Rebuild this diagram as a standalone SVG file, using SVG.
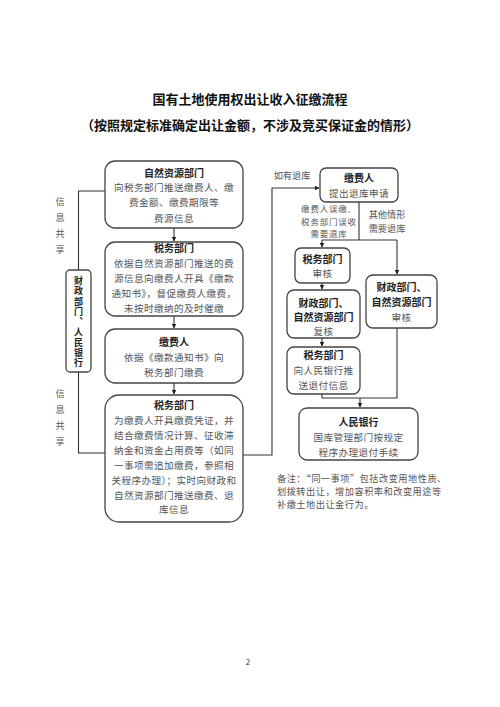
<svg xmlns="http://www.w3.org/2000/svg" width="500" height="707" viewBox="0 0 500 707">
<style>
text{font-family:"Noto Sans CJK SC","Noto Sans",sans-serif;}
.t{font-size:13px;font-weight:bold;fill:#111;text-anchor:middle;}
.h{font-size:10px;font-weight:bold;fill:#222;text-anchor:middle;}
.v{font-size:9px;font-weight:bold;fill:#222;writing-mode:vertical-rl;letter-spacing:1.3px;}
.vs{font-size:9.2px;fill:#555;writing-mode:vertical-rl;letter-spacing:6.8px;}
.b{font-size:9.6px;fill:#555;text-anchor:middle;letter-spacing:0.4px;}
.l{font-size:9.2px;fill:#555;text-anchor:middle;}
.s{font-size:8.5px;fill:#555;text-anchor:middle;letter-spacing:0.8px;}
.box{fill:#fff;stroke:#444;stroke-width:1.3;}
.c{fill:none;stroke:#333;stroke-width:1.1;}
</style>
<defs>
<marker id="ar" viewBox="0 0 10 10" refX="9" refY="5" markerWidth="5" markerHeight="5" orient="auto" markerUnits="userSpaceOnUse">
<path d="M0,0 L10,5 L0,10 z" fill="#222"/>
</marker>
</defs>
<rect width="500" height="707" fill="#fff"/>
<text class="t" x="250" y="104">国有土地使用权出让收入征缴流程</text>
<text class="t" x="250" y="130">（按照规定标准确定出让金额，不涉及竞买保证金的情形）</text>

<g id="connectors">
<path class="c" d="M174,228 V241" marker-end="url(#ar)"/>
<path class="c" d="M174,316 V328" marker-end="url(#ar)"/>
<path class="c" d="M174,383 V394" marker-end="url(#ar)"/>
<path class="c" d="M105,191 H78.5 V270"/>
<path class="c" d="M78.5,372 V453 H105"/>
<path class="c" d="M243,455 H272 V188 H319" marker-end="url(#ar)"/>
<path class="c" d="M359,202 V240 M322,240 H397"/>
<path class="c" d="M322,240 V247" marker-end="url(#ar)"/>
<path class="c" d="M397,240 V274" marker-end="url(#ar)"/>
<path class="c" d="M322,283 V289" marker-end="url(#ar)"/>
<path class="c" d="M322,338 V346" marker-end="url(#ar)"/>
<path class="c" d="M322,394 V398 H397 V328"/>
<path class="c" d="M360,398 V407" marker-end="url(#ar)"/>
</g>

<g id="n1">
<rect class="box" x="105" y="161" width="138" height="67" rx="10"/>
<text class="h" x="174" y="177">自然资源部门</text>
<text class="b" x="174" y="191">向税务部门推送缴费人、缴</text>
<text class="b" x="174" y="206">费金额、缴费期限等</text>
<text class="b" x="174" y="222">费源信息</text>
</g>
<g id="n2">
<rect class="box" x="105" y="242" width="138" height="74" rx="10"/>
<text class="h" x="174" y="252">税务部门</text>
<text class="b" x="174" y="267">依据自然资源部门推送的费</text>
<text class="b" x="174" y="282">源信息向缴费人开具《缴款</text>
<text class="b" x="174" y="297">通知书》，督促缴费人缴费，</text>
<text class="b" x="174" y="312">未按时缴纳的及时催缴</text>
</g>
<g id="n3">
<rect class="box" x="105" y="329" width="138" height="54" rx="10"/>
<text class="h" x="174" y="346">缴费人</text>
<text class="b" x="174" y="361">依据《缴款通知书》向</text>
<text class="b" x="174" y="376">税务部门缴费</text>
</g>
<g id="n4">
<rect class="box" x="105" y="395" width="138" height="127" rx="14"/>
<text class="h" x="174" y="409">税务部门</text>
<text class="b" x="174" y="424">为缴费人开具缴费凭证，并</text>
<text class="b" x="174" y="439">结合缴费情况计算、征收滞</text>
<text class="b" x="174" y="454">纳金和资金占用费等（如同</text>
<text class="b" x="174" y="469">一事项需追加缴费，参照相</text>
<text class="b" x="174" y="484">关程序办理）；实时向财政和</text>
<text class="b" x="174" y="499">自然资源部门推送缴费、退</text>
<text class="b" x="174" y="513">库信息</text>
</g>
<g id="side">
<rect class="box" x="66" y="270" width="25" height="102" rx="4"/>
<text class="v" x="78.5" y="276">财政部门、人民银行</text>
</g>
<g id="share-labels">
<text class="vs" x="60" y="197">信息共享</text>
<text class="vs" x="60" y="389">信息共享</text>
</g>
<text class="l" x="292" y="179">如有退库</text>
<text class="s" x="329" y="212">缴费人误缴、</text>
<text class="s" x="329" y="224.5">税务部门误收</text>
<text class="s" x="329" y="237">需要退库</text>
<text class="l" x="387" y="218">其他情形</text>
<text class="l" x="387" y="232">需要退库</text>

<g id="r1">
<rect class="box" x="320" y="168" width="78" height="34" rx="6"/>
<text class="h" x="359" y="182">缴费人</text>
<text class="b" x="359" y="197">提出退库申请</text>
</g>
<g id="r2">
<rect class="box" x="295" y="248" width="55" height="35" rx="6"/>
<text class="h" x="322.5" y="263">税务部门</text>
<text class="b" x="322.5" y="277">审核</text>
</g>
<g id="r3">
<rect class="box" x="287" y="290" width="73" height="48" rx="7"/>
<text class="h" x="323.5" y="307">财政部门、</text>
<text class="h" x="323.5" y="321">自然资源部门</text>
<text class="b" x="323.5" y="335">复核</text>
</g>
<g id="r4">
<rect class="box" x="287" y="347" width="73" height="47" rx="7"/>
<text class="h" x="323.5" y="359">税务部门</text>
<text class="b" x="323.5" y="374">向人民银行推</text>
<text class="b" x="323.5" y="389">送退付信息</text>
</g>
<g id="r5">
<rect class="box" x="366" y="275" width="71" height="53" rx="7"/>
<text class="h" x="401.5" y="291">财政部门、</text>
<text class="h" x="401.5" y="306">自然资源部门</text>
<text class="b" x="401.5" y="321">审核</text>
</g>
<g id="r6">
<rect class="box" x="299" y="408" width="119" height="52" rx="8"/>
<text class="h" x="358.5" y="426">人民银行</text>
<text class="b" x="358.5" y="441">国库管理部门按规定</text>
<text class="b" x="358.5" y="456">程序办理退付手续</text>
</g>
<g id="note">
<text class="l" style="text-anchor:start;letter-spacing:0.5px" x="277" y="482">备注：“同一事项”包括改变用地性质、</text>
<text class="l" style="text-anchor:start;letter-spacing:0.5px" x="277" y="495">划拨转出让，增加容积率和改变用途等</text>
<text class="l" style="text-anchor:start;letter-spacing:0.5px" x="277" y="508">补缴土地出让金行为。</text>
</g>
<text x="248" y="665" style="font-size:8px;fill:#444;text-anchor:middle">2</text>
</svg>
